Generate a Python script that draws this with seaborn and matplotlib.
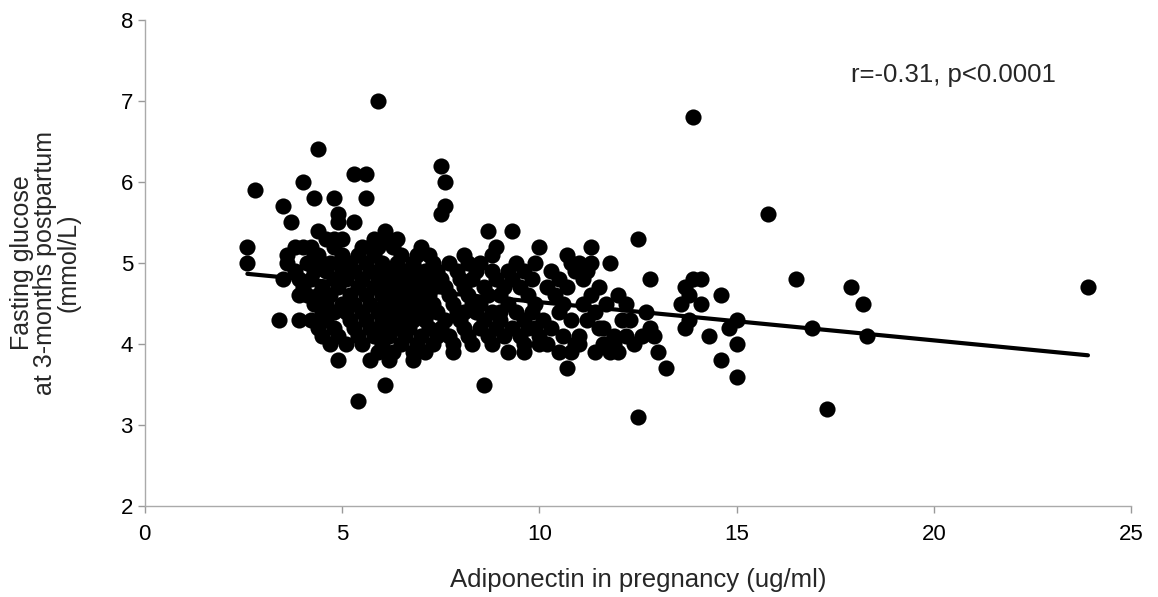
import numpy as np
import pandas as pd
import matplotlib
matplotlib.use("Agg")
import matplotlib.pyplot as plt
import seaborn as sns

# glucose levels (mmol/L) and the adiponectin values (ug/ml) seen at each level
glucose_levels = [7.0, 6.8, 6.4, 6.2, 6.1, 6.0, 5.9, 5.8, 5.7, 5.6, 5.5, 5.4, 5.3,
                  5.2, 5.1, 5.0, 4.9, 4.8, 4.7, 4.6, 4.5, 4.4, 4.3, 4.2, 4.1, 4.0,
                  3.9, 3.8, 3.7, 3.6, 3.5, 3.3, 3.2, 3.1]
adiponectin_at_level = [
    [5.9],
    [13.9],
    [4.4],
    [7.5],
    [5.3, 5.6],
    [4.0, 7.6],
    [2.8],
    [4.3, 4.8, 5.6],
    [3.5, 7.6],
    [4.9, 7.5, 15.8],
    [3.7, 4.9, 5.3],
    [4.4, 6.1, 8.7, 9.3],
    [4.6, 4.8, 5.0, 5.8, 6.1, 6.4, 12.5],
    [2.6, 3.8, 4.0, 4.2, 4.8, 5.5, 5.7, 5.9, 6.3, 7.0, 8.9, 10.0, 11.3],
    [3.6, 4.3, 4.4, 5.0, 5.4, 5.8, 6.5, 6.9, 7.2, 8.1, 8.8, 10.7],
    [2.6, 3.6, 4.1, 4.5, 4.7, 4.9, 5.2, 5.6, 6.0, 6.4, 6.8, 7.3, 7.7, 8.2, 8.5, 9.4,
     9.9, 10.8, 11.0, 11.3, 11.8],
    [3.8, 4.3, 4.6, 5.0, 5.3, 5.7, 6.1, 6.3, 6.6, 6.9, 7.1, 7.4, 7.9, 8.4, 8.8, 9.2,
     9.6, 10.3, 10.9, 11.2],
    [3.5, 3.9, 4.2, 4.8, 5.1, 5.5, 5.9, 6.3, 6.5, 6.7, 7.0, 7.2, 7.5, 8.0, 8.3, 8.9,
     9.3, 9.8, 10.5, 11.1, 12.8, 13.9, 14.1, 16.5],
    [4.0, 4.5, 4.9, 5.4, 5.8, 6.0, 6.2, 6.5, 6.8, 7.1, 7.3, 7.6, 8.1, 8.6, 9.1, 9.5,
     10.2, 10.7, 11.5, 13.7, 17.9, 23.9],
    [3.9, 4.1, 4.4, 4.7, 5.2, 5.6, 6.0, 6.4, 6.7, 6.9, 7.0, 7.2, 7.7, 8.2, 8.7, 9.0,
     9.7, 10.4, 11.3, 12.0, 13.8, 14.6],
    [4.3, 4.6, 5.0, 5.3, 5.7, 6.1, 6.3, 6.6, 6.9, 7.0, 7.3, 7.8, 8.3, 8.5, 9.2, 9.9,
     10.6, 11.1, 11.7, 12.2, 13.6, 14.1, 18.2],
    [4.5, 4.8, 5.1, 5.5, 5.9, 6.2, 6.5, 6.8, 7.0, 7.2, 7.4, 7.9, 8.4, 8.8, 9.4, 9.8,
     10.5, 11.4, 12.7, 8.1, 9.0],
    [3.4, 3.9, 4.2, 4.6, 5.2, 5.6, 6.0, 6.3, 6.5, 6.8, 7.1, 7.6, 8.0, 8.6, 9.0, 9.6,
     10.1, 10.8, 11.2, 12.1, 12.3, 13.8, 15.0],
    [4.4, 4.8, 5.3, 5.7, 6.1, 6.4, 6.7, 7.2, 7.5, 8.1, 8.5, 9.3, 9.7, 10.3, 11.5, 11.6,
     12.8, 13.7, 14.8, 16.9, 8.9, 9.9],
    [4.5, 4.9, 5.4, 5.8, 6.2, 6.6, 7.0, 7.4, 7.7, 8.2, 8.7, 9.1, 9.5, 10.0, 10.6, 11.0,
     11.9, 12.2, 12.6, 12.9, 14.3, 18.3],
    [4.7, 5.1, 5.5, 6.0, 6.5, 6.9, 7.3, 7.8, 8.3, 8.8, 9.6, 10.0, 10.2, 10.9, 11.0,
     11.6, 11.7, 11.9, 12.4, 15.0],
    [5.9, 6.3, 6.8, 7.1, 7.8, 9.2, 9.6, 10.5, 10.8, 11.4, 11.8, 12.0, 13.0],
    [4.9, 5.7, 6.2, 6.8, 14.6],
    [10.7, 13.2],
    [15.0],
    [6.1, 8.6],
    [5.4],
    [17.3],
    [12.5],
]

stat_text = "r=-0.31, p<0.0001"
x_label = "Adiponectin in pregnancy (ug/ml)"
y_label = "Fasting glucose\nat 3-months postpartum\n(mmol/L)"

rows = []
for g, xs in zip(glucose_levels, adiponectin_at_level):
    for a in xs:
        rows.append((a, g))
df = pd.DataFrame(rows, columns=["adiponectin", "glucose"])

sns.set_style("white")
plt.rcParams['font.family'] = ['Liberation Sans', 'DejaVu Sans']

fig = plt.figure(figsize=(11.58, 5.97), dpi=100)
ax = fig.add_axes([0.125, 0.152, 0.852, 0.815])

sns.regplot(data=df, x="adiponectin", y="glucose", ax=ax, ci=None, truncate=True,
            scatter_kws=dict(s=135, color="black", alpha=1, linewidths=0),
            line_kws=dict(color="black", lw=3))

ax.set_xlim(0, 25)
ax.set_ylim(2, 8)
ax.set_xticks(range(0, 26, 5))
ax.set_yticks(range(2, 9))
ax.tick_params(axis="both", labelsize=16, colors="#999999", labelcolor="black",
               length=5, width=1, direction="out", bottom=True, left=True)
ax.tick_params(axis="x", pad=8)
for side in ["top", "right"]:
    ax.spines[side].set_visible(False)
for side in ["left", "bottom"]:
    ax.spines[side].set_color("#aaaaaa")
    ax.spines[side].set_linewidth(1)

ax.set_xlabel(x_label, fontsize=18.5, labelpad=16)
ax.set_ylabel(y_label, fontsize=18, labelpad=29, linespacing=0.96)
ax.text(17.9, 7.32, stat_text, fontsize=18.5, va="center", ha="left")

fig.savefig("out.png", dpi=100)
